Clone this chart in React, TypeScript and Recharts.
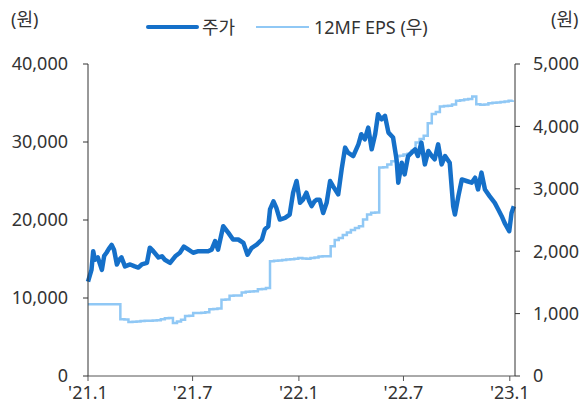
import React from 'react';
import { LineChart, Line, XAxis, YAxis } from 'recharts';

// share price (원): day offset from 2021-01-04 and close
const priceDays = [
  0, 6, 9, 12, 17, 24, 28, 32, 36, 41, 45, 50, 54, 58, 64, 73, 81, 87, 93, 102,
  107, 113, 122, 128, 133, 142, 151, 159, 166, 174, 182, 191, 199, 208, 214, 220, 225, 234, 243, 251,
  260, 269, 276, 283, 292, 301, 306, 312, 315, 321, 326, 332, 341, 349, 355, 361, 367, 372, 378, 383,
  387, 392, 396, 401, 407, 413, 419, 424, 433, 439, 445, 450, 459, 468, 473, 479, 485, 491, 497, 502,
  508, 514, 520, 528, 534, 537, 543, 548, 554, 560, 566, 571, 577, 583, 589, 595, 600, 606, 612, 618,
  626, 632, 635, 641, 647, 655, 664, 670, 675, 681, 687, 695, 704, 710, 716, 721, 729, 733, 737,
];
const priceValues = [
  12100, 13600, 16000, 14900, 15200, 13600, 15400, 15800, 16300, 16800, 16200, 14300, 14900, 15200, 14050, 14300, 14050, 13900, 14300, 14500,
  16450, 16000, 15200, 15350, 14900, 14500, 15350, 15800, 16600, 16200, 15800, 16000, 16000, 16000, 16200, 17300, 16200, 19200, 18350, 17500,
  17500, 17070, 15550, 16400, 16850, 17500, 18800, 19200, 21350, 22400, 21550, 20060, 20280, 20700, 23500, 25000, 22200, 22600, 23500, 22400,
  21780, 22400, 22600, 22600, 20900, 22200, 25000, 24350, 23280, 26500, 29280, 28640, 28200, 29700, 31000, 30350, 31850, 29060, 31000, 33570,
  32900, 33340, 31200, 30570, 27780, 24780, 27350, 25850, 28200, 28640, 29060, 28200, 29920, 27130, 28850, 28200, 27780, 29700, 27130, 28200,
  27350, 21770, 20700, 23060, 25200, 25000, 24780, 25420, 23920, 26070, 23920, 23060, 22200, 21350, 20490, 19640, 18560, 20900, 21770,
];

// 12MF EPS (원), weekly from 2021-01-04
const epsValues = [
  1150, 1150, 1150, 1150, 1150, 1150, 1150, 1150, 910, 905,
  865, 870, 875, 880, 885, 885, 890, 895, 910, 925,
  930, 850, 875, 900, 960, 965, 1010, 1010, 1015, 1020,
  1070, 1075, 1080, 1220, 1225, 1285, 1290, 1290, 1340, 1350,
  1355, 1360, 1390, 1395, 1410, 1840, 1845, 1850, 1860, 1865,
  1870, 1880, 1890, 1885, 1880, 1890, 1900, 1915, 1920, 1920,
  2080, 2180, 2210, 2260, 2300, 2340, 2370, 2400, 2510, 2590,
  2615, 2620, 3340, 3345, 3390, 3440, 3520, 3530, 3550, 3560,
  3610, 3740, 3800, 3850, 4050, 4200, 4230, 4320, 4325, 4330,
  4350, 4410, 4420, 4430, 4440, 4480, 4355, 4345, 4350, 4370,
  4380, 4385, 4390, 4400, 4410, 4420,
];

const xTicks = [0, 181, 365, 546, 730];
const xTickLabels = ["'21.1", "'21.7", "'22.1", "'22.7", "'23.1"];
const leftTicks = [0, 10000, 20000, 30000, 40000];
const rightTicks = [0, 1000, 2000, 3000, 4000, 5000];

const priceData = priceDays.map((d, i) => ({ day: d, price: priceValues[i] }));
const epsData = epsValues.map((v, i) => ({ day: i * 7, eps: v }));

const font = '"Noto Sans", "Noto Sans CJK KR", sans-serif';
const textColor = '#333333';
const dark = '#1570c9';
const light = '#90c8f5';
const fs = 18;

const fmt = (v: number) => v.toLocaleString('en-US');

const App: React.FC = () => {
  return (
    <div style={{ position: 'relative', width: 587, height: 409, fontFamily: font, lineHeight: 1 }}>
      <style>{'body{margin:0}'}</style>
      {/* unit labels */}
      <div style={{ position: 'absolute', left: 11, top: 10, fontSize: fs, color: textColor }}>(원)</div>
      <div style={{ position: 'absolute', left: 551, top: 10, fontSize: fs, color: textColor }}>(원)</div>
      {/* legend */}
      <div style={{ position: 'absolute', left: 146, top: 25, width: 53, height: 4, borderRadius: 2, background: dark }} />
      <div style={{ position: 'absolute', left: 202, top: 18, fontSize: fs, color: textColor }}>주가</div>
      <div style={{ position: 'absolute', left: 256, top: 26, width: 53, height: 2, background: light }} />
      <div style={{ position: 'absolute', left: 314, top: 18, fontSize: fs, color: textColor }}>12MF EPS (우)</div>
      <LineChart width={587} height={409} margin={{ top: 64, right: 0, bottom: 0, left: 0 }}>
        <XAxis
          dataKey="day"
          type="number"
          domain={[0, 739]}
          ticks={xTicks}
          tickFormatter={(v: number) => xTickLabels[xTicks.indexOf(v)]}
          height={33}
          stroke="#555"
          tickSize={5}
          tickMargin={5}
          tick={{ fontSize: fs, fill: textColor, fontFamily: font }}
          interval={0}
          allowDuplicatedCategory={false}
        />
        <YAxis
          yAxisId="left"
          width={88}
          domain={[0, 40000]}
          ticks={leftTicks}
          tickFormatter={fmt}
          stroke="#333"
          tickSize={5}
          tickMargin={15}
          tick={{ fontSize: fs, fill: textColor, fontFamily: font }}
          interval={0}
        />
        <YAxis
          yAxisId="right"
          orientation="right"
          width={72}
          domain={[0, 5000]}
          ticks={rightTicks}
          tickFormatter={fmt}
          stroke="#333"
          tickSize={5}
          tickMargin={13}
          tick={{ fontSize: fs, fill: textColor, fontFamily: font, textAnchor: 'start' }}
          interval={0}
        />
        <Line
          yAxisId="right"
          data={epsData}
          dataKey="eps"
          type="stepAfter"
          stroke={light}
          strokeWidth={2.5}
          dot={false}
          isAnimationActive={false}
        />
        <Line
          yAxisId="left"
          data={priceData}
          dataKey="price"
          type="linear"
          stroke={dark}
          strokeWidth={4.5}
          strokeLinejoin="round"
          dot={false}
          isAnimationActive={false}
        />
      </LineChart>
    </div>
  );
};

export default App;
